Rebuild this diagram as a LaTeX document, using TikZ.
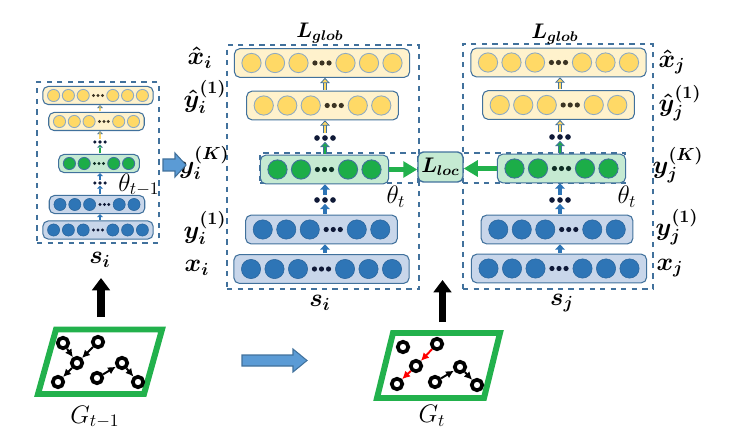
\documentclass[tikz,border=0pt]{standalone}
\usetikzlibrary{arrows.meta}

\definecolor{cLine}{RGB}{65,113,156}
\definecolor{cYelFill}{RGB}{255,242,204}
\definecolor{cYelCirc}{RGB}{255,217,102}
\definecolor{cYelDot}{RGB}{60,52,35}
\definecolor{cBluFill}{RGB}{200,214,234}
\definecolor{cBluCirc}{RGB}{46,117,182}
\definecolor{cBluDot}{RGB}{15,25,55}
\definecolor{cGrnFill}{RGB}{197,234,210}
\definecolor{cGrnCirc}{RGB}{28,173,72}
\definecolor{cGrnDot}{RGB}{12,45,35}
\definecolor{cGrnEdge}{RGB}{34,177,76}
\definecolor{cArrow}{RGB}{91,155,213}

% one layer of neurons: name, x, y, circles before dots, circles after, kind, slot
\newcommand{\netrow}[7]{%
  \pgfmathtruncatemacro{\nslot}{#4+#5+1}
  \node[#6row, minimum width={(\nslot+0.45)*#7*0.02cm},
        minimum height={1.22*#7*0.02cm}] (#1) at (#2,#3) {};
  \foreach \k in {1,...,\nslot} {
    \pgfmathsetmacro{\ccx}{#2+(\k-(\nslot+1)/2)*#7}
    \ifnum\k=\numexpr#4+1\relax
      \foreach \d in {-1,0,1}
        \fill[#6dot] (\ccx+\d*0.3*#7,#3) circle[radius={0.11*#7*0.02cm}];
    \else
      \filldraw[#6circ] (\ccx,#3) circle[radius={0.41*#7*0.02cm}];
    \fi
  }
}
% three dots between layers: name, x, y, slot
\newcommand{\dotgap}[4]{%
  \node[inner sep=0pt, minimum width={0.9*#4*0.02cm},
        minimum height={0.3*#4*0.02cm}] (#1) at (#2,#3) {};
  \foreach \d in {-1,0,1}
    \fill[cBluDot, shift={(#1)}] (\d*0.34*#4,0) circle[radius={0.12*#4*0.02cm}];
}

\begin{document}
\begin{tikzpicture}[
    x=0.02cm, y=-0.02cm,
    yelrow/.style={draw=cLine, fill=cYelFill, rounded corners=3pt, line width=0.6pt, inner sep=0pt},
    blurow/.style={draw=cLine, fill=cBluFill, rounded corners=3pt, line width=0.6pt, inner sep=0pt},
    grnrow/.style={draw=cLine, fill=cGrnFill, rounded corners=3pt, line width=0.6pt, inner sep=0pt},
    yelcirc/.style={fill=cYelCirc, draw=cLine!60, line width=0.5pt},
    blucirc/.style={fill=cBluCirc, draw=cBluCirc!85!black, line width=0.3pt},
    grncirc/.style={fill=cGrnCirc, draw=cLine, line width=0.5pt},
    yeldot/.style={fill=cYelDot}, bludot/.style={fill=cBluDot}, grndot/.style={fill=cGrnDot},
    panel/.style={draw=cLine, dashed, line width=0.7pt, inner sep=0pt},
    barr/.style={draw=cBluCirc, line width={1.9pt*#1},
        -{Triangle[length=3pt,width=5.5pt,scale=#1]}, shorten <=0.5pt},
    barr/.default=1,
    garr/.style={draw=cLine, line width={0.45pt*#1}, double=cGrnCirc, double distance={1.1pt*#1},
        -{Triangle[length=3pt,width=5.5pt,scale=#1,fill=cGrnCirc]}, shorten <=0.5pt},
    garr/.default=1,
    yarr/.style={draw=cLine, line width={0.45pt*#1}, double=cYelCirc, double distance={1.1pt*#1},
        -{Triangle[length=3pt,width=5.5pt,scale=#1,fill=cYelCirc]}, shorten <=0.5pt},
    yarr/.default=1,
    bigg/.style={draw=cGrnEdge, line width=3pt, -{Triangle[length=8pt,width=9pt]}},
    blkarr/.style={draw=black, line width=4pt, -{Triangle[length=7pt,width=10pt]}},
    blockarr/.style={fill=cArrow, draw=cLine, line width=0.6pt},
    locbox/.style={draw=cLine, fill=cGrnFill, rounded corners=3pt, line width=0.8pt,
        minimum width=0.9cm, minimum height=0.6cm, inner sep=0pt, font=\large\boldmath},
    lbl/.style={font=\Large\boldmath, inner sep=0pt},
    lossl/.style={font=\large\boldmath, inner sep=0pt},
    thl/.style={font=\Large, inner sep=0pt},
    pgram/.style={draw=cGrnEdge, line width=3.4pt},
    gnode/.style={circle, draw, line width=2.1pt, fill=white, minimum size=0.21cm, inner sep=0pt},
    gedge/.style={line width=1.1pt, -{Latex[length=4.5pt,width=4.5pt]}}]
    \useasboundingbox (0,0) rectangle (736,442);

    % Modelo anterior (t-1).
    \node[panel, minimum width=2.44cm, minimum height=3.22cm] (pold) at (98,162.5) {};
    \netrow{o1}{98}{95.5}{3}{3}{yel}{14.8}
    \netrow{o2}{96.5}{121.5}{3}{2}{yel}{14.8}
    \netrow{o3}{99}{163.5}{2}{2}{grn}{14.8}
    \netrow{o4}{97}{204.5}{3}{2}{blu}{14.8}
    \netrow{o5}{98}{230}{3}{3}{blu}{14.8}
    \dotgap{odA}{100}{142}{14.8}
    \dotgap{odB}{100}{183}{14.8}
    \draw[barr=0.6] (o5.north -| odA) -- (o4.south -| odA);
    \draw[barr=0.6] (o4.north -| odB) -- (odB.south);
    \draw[barr=0.6] (odB.north) -- (o3.south -| odB);
    \draw[garr=0.6] (o3.north -| odA) -- (odA.south);
    \draw[yarr=0.6] (odA.north) -- (o2.south -| odA);
    \draw[yarr=0.6] (o2.north -| odA) -- (o1.south -| odA);
    \node[thl] (th0) at (139,185) {$\theta_{t-1}$};
    \node[lbl] (si0) at (100,260) {$s_i$};

    % Autoencoders de s_i y s_j en t.
    \node[panel, minimum width=3.84cm, minimum height=4.88cm] (pi) at (323,167) {};
    \node[panel, minimum width=3.8cm, minimum height=4.9cm] (pj) at (558,166.5) {};
    \node[panel, minimum width=3.16cm, minimum height=0.6cm] (gbi) at (339,168) {};
    \node[panel, minimum width=3.24cm, minimum height=0.6cm] (gbj) at (544,168) {};

    \netrow{i1}{322}{63}{3}{3}{yel}{23.5}
    \netrow{i2}{322.5}{105.5}{3}{2}{yel}{23.5}
    \netrow{i3}{324.5}{169.5}{2}{2}{grn}{23.5}
    \netrow{i4}{321.5}{229.5}{3}{2}{blu}{23.5}
    \netrow{i5}{321.5}{269}{3}{3}{blu}{23.5}
    \dotgap{idA}{325}{138}{23.5}
    \dotgap{idB}{325}{200}{23.5}
    \draw[barr] (i5.north -| idA) -- (i4.south -| idA);
    \draw[barr] (i4.north -| idB) -- (idB.south);
    \draw[barr] (idB.north) -- (i3.south -| idB);
    \draw[garr] (i3.north -| idA) -- (idA.south);
    \draw[yarr] (idA.north) -- (i2.south -| idA);
    \draw[yarr] (i2.north -| idA) -- (i1.south -| idA);

    \netrow{j1}{558.5}{62.5}{3}{3}{yel}{23.5}
    \netrow{j2}{558.5}{105}{3}{2}{yel}{23.5}
    \netrow{j3}{561.5}{168.5}{2}{2}{grn}{23.5}
    \netrow{j4}{557}{229.5}{3}{2}{blu}{23.5}
    \netrow{j5}{559}{268.5}{3}{3}{blu}{23.5}
    \dotgap{jdA}{560}{137}{23.5}
    \dotgap{jdB}{560}{200}{23.5}
    \draw[barr] (j5.north -| jdA) -- (j4.south -| jdA);
    \draw[barr] (j4.north -| jdB) -- (jdB.south);
    \draw[barr] (jdB.north) -- (j3.south -| jdB);
    \draw[garr] (j3.north -| jdA) -- (jdA.south);
    \draw[yarr] (jdA.north) -- (j2.south -| jdA);
    \draw[yarr] (j2.north -| jdA) -- (j1.south -| jdA);

    % Perdida local entre las dos capas K.
    \node[locbox] (lloc) at (440.5,167) {$L_{loc}$};
    \draw[bigg] (i3.east) -- (i3.east -| lloc.west);
    \draw[bigg] (j3.west) -- (j3.west -| lloc.east);

    \node[lossl] (lgi) at (320,33) {$L_{glob}$};
    \node[lossl] (lgj) at (555,34) {$L_{glob}$};
    \node[thl] (thi) at (396,197) {$\theta_t$};
    \node[thl] (thj) at (627,197) {$\theta_t$};
    \node[lbl] (si) at (320,303) {$s_i$};
    \node[lbl] (sj) at (562,303) {$s_j$};

    \node[lbl] (xhi) at (200,58) {$\hat{x}_i$};
    \node[lbl] (yhi) at (205,97) {$\hat{y}_i^{(1)}$};
    \node[lbl] (yki) at (204,163) {$y_i^{(K)}$};
    \node[lbl] (y1i) at (205,228) {$y_i^{(1)}$};
    \node[lbl] (xi) at (197,268) {$x_i$};
    \node[lbl] (xhj) at (672,62) {$\hat{x}_j$};
    \node[lbl] (yhj) at (680,103) {$\hat{y}_j^{(1)}$};
    \node[lbl] (ykj) at (678,165) {$y_j^{(K)}$};
    \node[lbl] (y1j) at (677,227) {$y_j^{(1)}$};
    \node[lbl] (xj) at (670,268) {$x_j$};

    % Flechas de bloque.
    \draw[blockarr] (163,159) -- (175,159) -- (175,153) -- (186,165)
        -- (175,177) -- (175,171) -- (163,171) -- cycle;
    \draw[blockarr] (242,355) -- (293,355) -- (293,349) -- (307,360.5)
        -- (293,372) -- (293,366) -- (242,366) -- cycle;

    % Grafos G_{t-1} y G_t.
    \draw[pgram] (56,329.5) -- (162,329.5) -- (144,394) -- (38,394) -- cycle;
    \node[gnode] (pa) at (63,343) {};
    \node[gnode] (pb) at (98,342) {};
    \node[gnode] (pc) at (77,363) {};
    \node[gnode] (pd) at (58,382) {};
    \node[gnode] (pe) at (97,378) {};
    \node[gnode] (pf) at (122,363) {};
    \node[gnode] (pg) at (138,382) {};
    \draw[gedge] (pa) -- (pc);
    \draw[gedge] (pb) -- (pc);
    \draw[gedge] (pc) -- (pd);
    \draw[gedge] (pe) -- (pf);
    \draw[gedge] (pf) -- (pg);
    \node[thl] (gl1) at (95,417) {$G_{t-1}$};

    \draw[pgram] (393,333) -- (500,333) -- (484,398) -- (377,398) -- cycle;
    \node[gnode] (na) at (403,347) {};
    \node[gnode] (nb) at (437,344) {};
    \node[gnode] (nc) at (416,366) {};
    \node[gnode] (nd) at (397,384) {};
    \node[gnode] (ne) at (435,382) {};
    \node[gnode] (nf) at (460,367) {};
    \node[gnode] (ng) at (477,385) {};
    \draw[gedge, red] (nb) -- (nc);
    \draw[gedge, red] (nc) -- (nd);
    \draw[gedge] (ne) -- (nf);
    \draw[gedge] (nf) -- (ng);
    \node[thl] (gl2) at (432,416) {$G_t$};

    \coordinate (g1top) at (101,317);
    \coordinate (g1up) at (101,278);
    \coordinate (g2top) at (442.5,322);
    \coordinate (g2up) at (442.5,280);
    \draw[blkarr] (g1top) -- (g1up);
    \draw[blkarr] (g2top) -- (g2up);
\end{tikzpicture}
\end{document}
